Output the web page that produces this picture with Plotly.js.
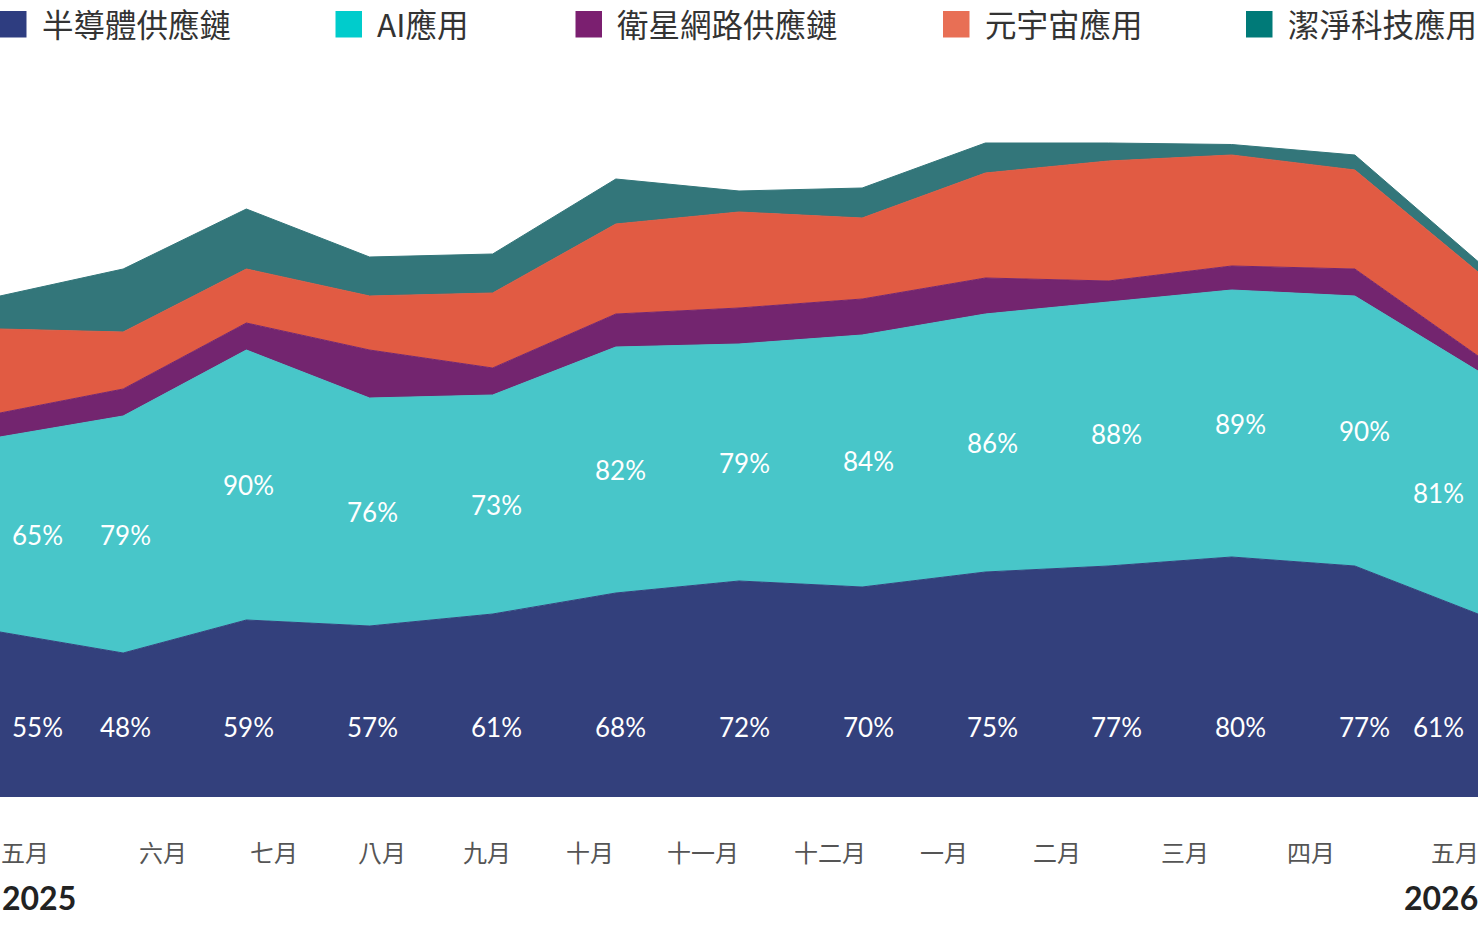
<!DOCTYPE html>
<html>
<head>
<meta charset="utf-8">
<script src="https://cdn.plot.ly/plotly-3.0.1.min.js"></script>
<style>
  html, body { margin: 0; padding: 0; background: #fff; }
  #chart { width: 1482px; height: 927px; }
</style>
</head>
<body>
<div id="chart"></div>
<script>
// data (percent)
const seriesNames = ['半導體供應鏈', 'AI應用', '衛星網路供應鏈', '元宇宙應用', '潔淨科技應用'];
const semiconductor = [55, 48, 59, 57, 61, 68, 72, 70, 75, 77, 80, 77, 61];
const aiApps = [65, 79, 90, 76, 73, 82, 79, 84, 86, 88, 89, 90, 81];
const satellite = [8, 9, 9, 16, 9, 11, 12, 12, 12, 7, 8, 9, 5];
const metaverse = [28, 19, 18, 18, 25, 30, 32, 27, 35, 40, 37, 33, 28];
const cleanTech = [11, 21, 20, 13, 13, 15, 7, 10, 10, 6, 3.5, 5, 3.5];
const monthLabels = ['五月', '六月', '七月', '八月', '九月', '十月', '十一月', '十二月', '一月', '二月', '三月', '四月', '五月'];
const yearLabels = ['2025', '2026'];

// styles
const fillColors = ['#33407C', '#48C6C9', '#73256F', '#E15B43', '#33767A'];
const legendColors = ['#2E3D80', '#00CCCC', '#7B1F70', '#E86F55', '#007A78'];
const plotW = 1478, plotTop = 62, plotBottom = 797;
const pxX = p => p / plotW;
const pxY = p => (plotBottom - p) / (plotBottom - plotTop);

const x = semiconductor.map((_, i) => i);
const allSeries = [semiconductor, aiApps, satellite, metaverse, cleanTech];

const traces = allSeries.map((vals, k) => ({
  x: x,
  y: vals,
  name: seriesNames[k],
  type: 'scatter',
  mode: 'lines',
  stackgroup: 'one',
  line: { width: 1, color: fillColors[k] },
  fillcolor: fillColors[k],
  showlegend: false,
  hoverinfo: 'skip'
}));

const annotations = [];
const shapes = [];
const last = x.length - 1;

// value labels
x.forEach(i => {
  let pos;
  if (i === 0) pos = { xanchor: 'left', xshift: 10 };
  else if (i === last) pos = { xanchor: 'right', xshift: -12 };
  else pos = { xanchor: 'center', xshift: 1 + i * 0.83 };
  const base = { x: i, xref: 'x', yref: 'y', showarrow: false, yanchor: 'middle',
    font: { family: 'Lato, sans-serif', size: 26, color: '#ffffff' } };
  annotations.push(Object.assign({}, base, pos, { y: 23.33, text: semiconductor[i] + '%' }));
  annotations.push(Object.assign({}, base, pos, { y: semiconductor[i] + aiApps[i] / 2, text: aiApps[i] + '%' }));
});

// legend
const legendPx = [0, 335.5, 575.5, 943, 1246];
seriesNames.forEach((name, k) => {
  shapes.push({ type: 'rect', xref: 'paper', yref: 'paper',
    x0: pxX(legendPx[k]), x1: pxX(legendPx[k] + 26.5),
    y0: pxY(37.5), y1: pxY(11), fillcolor: legendColors[k], line: { width: 0 } });
  annotations.push({ xref: 'paper', yref: 'paper', x: pxX(legendPx[k] + 39.5), y: pxY(23),
    xanchor: 'left', yanchor: 'middle', showarrow: false, text: name,
    font: { family: '"Noto Sans CJK TC", sans-serif', size: 31.5, color: '#333333' } });
});

// years
annotations.push({ xref: 'paper', yref: 'paper', x: 0, y: pxY(897), xanchor: 'left', yanchor: 'middle',
  showarrow: false, text: '<b>' + yearLabels[0] + '</b>',
  font: { family: 'Lato, sans-serif', size: 32, color: '#222222' } });
annotations.push({ xref: 'paper', yref: 'paper', x: pxX(1480), y: pxY(897), xanchor: 'right', yanchor: 'middle',
  showarrow: false, text: '<b>' + yearLabels[1] + '</b>',
  font: { family: 'Lato, sans-serif', size: 32, color: '#222222' } });

// month tick positions (pixels along the axis)
const monthTickPx = [25, 163, 274, 382, 487, 590, 703, 830, 944, 1057, 1185, 1311, 1455];

const layout = {
  width: 1482,
  height: 927,
  margin: { l: 0, r: 4, t: plotTop, b: 927 - plotBottom, pad: 0 },
  paper_bgcolor: '#ffffff',
  plot_bgcolor: '#ffffff',
  showlegend: false,
  xaxis: {
    range: [0, last],
    tickvals: monthTickPx.map(p => p * last / plotW),
    ticktext: monthLabels,
    tickfont: { family: '"Noto Sans CJK TC", sans-serif', size: 24, color: '#555555' },
    ticks: '',
    ticklabelstandoff: 40,
    showgrid: false,
    zeroline: false,
    showline: false,
    fixedrange: true
  },
  yaxis: {
    range: [0, 245],
    visible: false,
    fixedrange: true
  },
  annotations: annotations,
  shapes: shapes
};

Plotly.newPlot('chart', traces, layout, { displayModeBar: false, staticPlot: true });
</script>
</body>
</html>
